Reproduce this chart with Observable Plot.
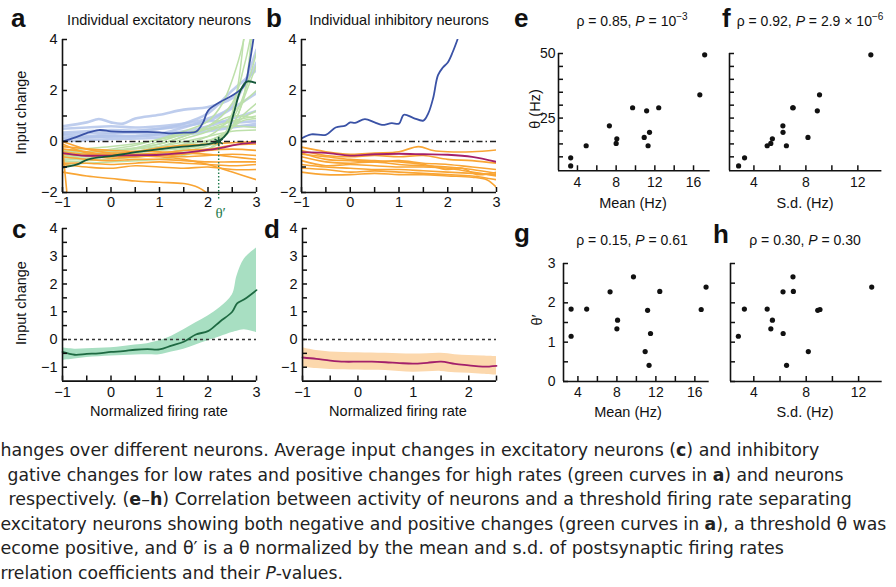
<!DOCTYPE html>
<html><head><meta charset="utf-8">
<script src="https://cdn.jsdelivr.net/npm/d3@7"></script>
<script src="https://cdn.jsdelivr.net/npm/@observablehq/plot@0.6"></script>
<style>
html,body{margin:0;padding:0;background:#fff;}
#root{position:relative;width:896px;height:587px;overflow:hidden;background:#fff;}
</style></head><body><div id="root"></div>
<script>
// ---------- Panel a: individual excitatory neurons ----------
const aLightBlue = [
  [[-1,0.6],[-0.5,0.75],[-0.25,0.88],[0,0.75],[0.25,0.7],[0.5,0.9],[1,1.05],[1.5,1.25],[2,1.35],[2.5,1.7],[2.75,2.2],[3,3.1]],
  [[-1,0.5],[-0.5,0.55],[0,0.6],[0.5,0.55],[1,0.6],[1.5,0.7],[2,0.9],[2.5,1.4],[3,3.6]],
  [[-1,0.35],[-0.5,0.4],[0,0.45],[0.5,0.42],[1,0.5],[1.5,0.6],[2,0.8],[2.5,1.3],[3,1.9]],
  [[-1,0.25],[-0.5,0.2],[0,0.3],[0.5,0.35],[1,0.3],[1.5,0.4],[2,0.6],[2.5,0.9],[3,1.2]],
  [[-1,0.1],[-0.5,0.15],[0,0.2],[0.5,0.2],[1,0.3],[1.5,0.55],[2,0.8],[2.5,0.75],[3,0.8]],
  [[-1,0.15],[0,0.2],[1,0.25],[1.5,0.3],[2,0.5],[2.5,0.6],[3,0.6]],
  [[-1,0.3],[0,0.35],[1,0.5],[1.5,0.7],[2,1.1],[2.5,2.0],[3,2.8]],
  [[-1,0.0],[0,0.1],[1,0.15],[2,0.4],[2.5,0.55],[3,0.7]]
];
const aLightGreen = [
  [[-1,-0.3],[-0.5,-0.4],[0,-0.3],[0.5,-0.15],[1,0.1],[1.5,0.4],[2,0.8],[2.3,1.5],[2.6,3.0],[2.8,4.5]],
  [[-1,-0.5],[-0.5,-0.5],[0,-0.4],[0.5,-0.25],[1,0],[1.5,0.3],[2,0.6],[2.5,1.5],[2.75,3.0],[2.9,4.3]],
  [[-1,-0.6],[0,-0.5],[0.5,-0.4],[1,-0.2],[1.5,0.1],[2,0.4],[2.5,0.9],[3,3.5]],
  [[-1,-0.7],[0,-0.6],[0.5,-0.45],[1,-0.3],[1.5,-0.1],[2,0.2],[2.3,0.6],[2.6,1.3],[3,2.0]],
  [[-1,-0.4],[0,-0.35],[1,-0.1],[1.5,0.2],[2,0.5],[2.5,0.8],[3,1.0]],
  [[-1,-0.8],[0,-0.7],[1,-0.5],[1.5,-0.3],[2,0],[2.4,0.4],[2.7,0.8],[3,0.9]],
  [[-1,-0.55],[0,-0.45],[1,-0.3],[1.6,-0.1],[2.1,0.1],[2.4,0.4],[2.7,1.0],[3,1.5]],
  [[-1,-0.35],[0,-0.2],[0.8,0],[1.5,0.3],[2,0.5],[2.5,0.6],[3,0.55]],
  [[-1,-0.9],[0,-0.8],[1,-0.7],[1.8,-0.4],[2.2,-0.1],[2.4,0.5],[2.6,2.0],[2.75,4.3]],
  [[-1,-0.6],[0,-0.5],[1,-0.35],[1.8,-0.2],[2.2,0.1],[2.5,0.6],[2.8,2.0],[3,3.0]],
  [[-1,-0.45],[0,-0.35],[1,-0.2],[2,0.2],[2.5,0.4],[3,0.45]],
  [[-1,-0.75],[0,-0.6],[1,-0.55],[2,-0.3],[2.3,0.2],[2.7,0.9],[3,1.2]],
  [[-1,-0.5],[0,-0.4],[1,-0.1],[1.5,0.2],[2,0.6],[2.5,1.0],[3,0.9]],
  [[-1,-0.65],[0,-0.55],[1,-0.45],[1.7,-0.3],[2.1,-0.1],[2.4,0.3],[2.7,1.5],[2.9,4.2]]
];
const aOrange = [
  [[-1,-0.05],[-0.97,-0.8],[-0.93,-1.6],[-0.9,-2.2]],
  [[-1,0],[-0.5,-0.3],[0,-0.45],[0.5,-0.4],[1,-0.25],[1.5,-0.15],[2,-0.1],[2.5,-0.05],[3,0]],
  [[-1,-0.1],[-0.5,-0.45],[0,-0.5],[0.5,-0.5],[1,-0.45],[1.5,-0.35],[2,-0.3],[2.5,-0.15],[3,-0.1]],
  [[-1,-0.3],[-0.5,-0.4],[0,-0.55],[0.5,-0.6],[1,-0.55],[1.5,-0.5],[2,-0.35],[2.5,-0.3],[3,-0.35]],
  [[-1,-0.5],[-0.5,-0.55],[0,-0.65],[0.5,-0.6],[1,-0.55],[1.5,-0.6],[2,-0.55],[2.5,-0.5],[3,-0.55]],
  [[-1,-0.6],[-0.5,-0.7],[0,-0.75],[0.5,-0.7],[1,-0.7],[1.5,-0.75],[2,-0.8],[2.5,-0.8],[3,-0.8]],
  [[-1,-0.85],[-0.5,-0.85],[0,-0.9],[0.5,-0.85],[1,-0.8],[1.5,-0.85],[2,-0.9],[2.5,-0.95],[3,-0.9]],
  [[-1,-0.9],[-0.5,-1.0],[0,-1.05],[0.5,-0.95],[1,-1.0],[1.5,-1.05],[2,-1.0],[2.5,-1.1],[3,-1.1]],
  [[-1,-1.2],[-0.5,-1.35],[0,-1.45],[0.5,-1.55],[1,-1.6],[1.5,-1.65],[1.8,-1.8],[2,-2.05]],
  [[-1,-0.4],[-0.5,-0.5],[0,-0.5],[0.5,-0.55],[1,-0.6],[1.5,-0.7],[2,-0.9],[2.5,-1.2],[3,-1.5]],
  [[-1,-0.2],[0,-0.35],[1,-0.4],[1.5,-0.45],[2,-0.5],[2.5,-0.6],[3,-0.7]]
];
const aMagenta = [[-1,-0.46],[-0.6,-0.55],[0,-0.55],[0.5,-0.54],[1,-0.52],[1.5,-0.45],[1.75,-0.39],[2.25,-0.26],[2.65,-0.1],[3,-0.04]];
const aDarkBlue = [[-1,0],[-0.75,0.15],[-0.5,0.33],[-0.25,0.45],[0,0.4],[0.25,0.38],[0.5,0.38],[0.75,0.38],[1,0.36],[1.25,0.32],[1.5,0.35],[1.75,0.38],[1.9,0.75],[2,1.2],[2.25,1.55],[2.5,1.8],[2.75,2.2],[2.85,3.0],[2.95,4.2]];
const aDarkGreen = [[-1,-1.02],[-0.7,-0.9],[-0.5,-0.72],[-0.25,-0.62],[0,-0.57],[0.25,-0.5],[0.5,-0.42],[1,-0.3],[1.5,-0.2],[2,-0.1],[2.22,0.02],[2.4,0.33],[2.53,1.1],[2.67,2.0],[2.8,2.35],[3,2.29]];
const aTheta = [2.22];

// ---------- Panel b: individual inhibitory neurons ----------
const bDarkBlue = [[-1,0.12],[-0.8,0.28],[-0.5,0.26],[-0.3,0.55],[-0.1,0.62],[0,0.75],[0.1,0.73],[0.3,0.88],[0.5,0.75],[0.65,0.65],[0.85,0.72],[1,0.7],[1.1,1.05],[1.3,0.92],[1.5,0.82],[1.6,1.1],[1.7,1.7],[1.8,2.6],[1.9,2.9],[2.0,3.1],[2.1,3.5],[2.2,4.0]];
const bMagenta = [[-1,-0.42],[-0.5,-0.45],[0,-0.55],[0.5,-0.5],[1,-0.48],[1.5,-0.5],[2,-0.52],[2.5,-0.6],[3,-0.8]];
const bOrange = [
  [[-1,-0.22],[-0.5,-0.4],[0,-0.5],[0.5,-0.45],[1,-0.4],[1.4,-0.2],[1.7,-0.35],[2,-0.4],[2.5,-0.4],[3,-0.33]],
  [[-1,-0.35],[-0.5,-0.55],[0,-0.6],[0.5,-0.55],[1,-0.6],[1.5,-0.55],[2,-0.7],[2.5,-0.75],[3,-0.85]],
  [[-1,-0.45],[-0.5,-0.7],[0,-0.75],[0.5,-0.8],[1,-0.75],[1.5,-0.85],[2,-0.9],[2.5,-1.0],[3,-1.1]],
  [[-1,-0.6],[-0.5,-0.8],[0,-0.85],[0.5,-0.8],[1,-0.9],[1.5,-0.95],[2,-1.0],[2.5,-1.1],[3,-1.25]],
  [[-1,-0.75],[-0.5,-0.95],[0,-0.9],[0.5,-0.95],[1,-1.0],[1.5,-1.0],[2,-1.05],[2.5,-1.2],[3,-1.35]],
  [[-1,-0.9],[-0.5,-1.0],[0,-1.05],[0.5,-1.1],[1,-1.1],[1.5,-1.15],[2,-1.2],[2.5,-1.25],[3,-1.3]],
  [[-1,-1.05],[-0.5,-1.1],[0,-1.2],[0.5,-1.15],[1,-1.2],[1.5,-1.25],[2,-1.3],[2.5,-1.35],[3,-1.5]],
  [[-1,-1.2],[-0.5,-1.3],[0,-1.3],[0.5,-1.25],[1,-1.3],[1.5,-1.3],[2,-1.35],[2.5,-1.4],[2.8,-1.5],[3,-1.8]],
  [[-1,-0.5],[-0.5,-0.6],[0,-0.7],[0.5,-0.75],[1,-0.8],[1.5,-0.9],[2,-1.1],[2.3,-1.05],[2.6,-1.3],[3,-1.2]]
];

// ---------- Panels c, d: averages with bands ----------
const cX     = [-1,-0.75,-0.5,-0.25,0,0.25,0.5,0.75,1,1.25,1.5,1.75,2,2.25,2.5,2.6,2.75,3];
const cMean  = [-0.45,-0.55,-0.52,-0.5,-0.45,-0.42,-0.37,-0.35,-0.36,-0.22,-0.08,0.18,0.3,0.65,1.0,1.3,1.45,1.78];
const cUpper = [-0.3,-0.35,-0.33,-0.32,-0.3,-0.25,-0.2,-0.15,-0.05,0.12,0.35,0.6,0.85,1.15,1.6,2.3,2.9,3.3];
const cLower = [-0.75,-0.7,-0.65,-0.62,-0.6,-0.58,-0.56,-0.55,-0.55,-0.45,-0.35,-0.2,-0.05,0.1,0.25,0.3,0.35,0.25];
const dX     = [-1,-0.75,-0.5,-0.25,0,0.25,0.5,0.75,1,1.25,1.5,1.75,2,2.25,2.5];
const dMean  = [-0.65,-0.7,-0.76,-0.8,-0.8,-0.8,-0.82,-0.85,-0.87,-0.84,-0.8,-0.88,-0.93,-0.98,-0.95];
const dUpper = [-0.3,-0.4,-0.45,-0.47,-0.48,-0.49,-0.5,-0.51,-0.52,-0.51,-0.5,-0.55,-0.58,-0.6,-0.62];
const dLower = [-1.0,-1.05,-1.08,-1.09,-1.1,-1.11,-1.12,-1.15,-1.18,-1.16,-1.15,-1.2,-1.22,-1.25,-1.28];

// ---------- Panels e-h: per-neuron statistics ----------
const meanHz = [3.3, 3.3, 4.9, 7.3, 8.0, 8.07, 9.7, 10.9, 11.15, 11.45, 11.3, 12.4, 16.65, 17.15];
const sdHz   = [2.82, 3.28, 5.02, 6.23, 5.3, 5.42, 6.99, 8.16, 8.88, 6.24, 6.5, 7.02, 9.05, 13.0];
const thetaHz= [6.5, 9.6, 14.3, 22.0, 15.2, 17.0, 29.0, 17.5, 27.8, 19.5, 14.3, 29.0, 34.0, 49.5];
const thetaN = [1.15, 1.84, 1.84, 2.28, 1.34, 1.56, 2.66, 0.76, 1.81, 1.22, 0.41, 2.29, 1.83, 2.4];

// ---------- tick lists ----------
const ticksRateX = [-1,-0.5,0,0.5,1,1.5,2,2.5,3], labRateX = [-1,0,1,2,3];
const ticksAY = [-2,-1,0,1,2,3,4], labAY = [-2,0,2,4];
const ticksCY = [-1,-0.5,0,0.5,1,1.5,2,2.5,3,3.5,4], labCY = [-1,0,1,2,3,4];
const ticksDX = [-1,-0.5,0,0.5,1,1.5,2,2.5], labDX = [-1,0,1,2];
const ticksMeanX = [4,6,8,10,12,14,16], labMeanX = [4,8,12,16];
const ticksSdX = [4,6,8,10,12], labSdX = [4,8,12];
const ticksThetaY = [10,15,20,25,30,35,40,45,50], labThetaY = [25,50];
const ticksThetaNY = [0,0.5,1,1.5,2,2.5,3], labThetaNY = [0,1,2,3];

// colours
const C = {lb:"#b3c4ea", lg:"#bde0aa", or:"#f9a534", mg:"#a3206b", db:"#3a52a6", dg:"#15573a",
           band:"#a8dfc2", bandD:"#fcd8ad", dgMean:"#1e6a42", theta:"#1f7a4c"};

const root = document.getElementById("root");
const fmt = d => (d < 0 ? "\u2212" + Math.abs(d) : String(d));
const toRows = lines => lines.flatMap((pts, i) => pts.map(([x, y]) => ({x, y, id: i})));
const pts = p => p.map(([x, y]) => ({x, y}));

function panel({frame, xDom, yDom, marks, xt, xl, yt, yl, xPad, yPad, fs}) {
  const [fl, ft, fr, fb] = frame;
  const ml = 45, mt = 12, mr = 14, mb = 34;
  const svg = Plot.plot({
    width: (fr - fl) + ml + mr, height: (fb - ft) + mt + mb,
    marginLeft: ml, marginTop: mt, marginRight: mr, marginBottom: mb,
    x: {domain: xDom, label: null}, y: {domain: yDom, label: null},
    style: {background: "transparent", overflow: "visible", fontFamily: "Liberation Sans, Arial, sans-serif", color: "#111"},
    marks: [
      ...marks,
      Plot.ruleX([xDom[0]], {stroke: "#111", strokeWidth: 1.6}),
      Plot.ruleY([yDom[0]], {stroke: "#111", strokeWidth: 1.6}),
      Plot.axisX({ticks: xt, tickSize: -5, tickPadding: xPad, strokeWidth: 1.5, fontSize: fs, label: null,
                  tickFormat: d => xl.includes(d) ? fmt(d) : ""}),
      Plot.axisY({ticks: yt, tickSize: -5, tickPadding: yPad, strokeWidth: 1.5, fontSize: fs, label: null,
                  tickFormat: d => yl.includes(d) ? fmt(d) : ""})
    ]
  });
  svg.style.position = "absolute";
  svg.style.left = (fl - ml) + "px";
  svg.style.top = (ft - mt) + "px";
  root.appendChild(svg);
}

const cr = "catmull-rom";
// a
panel({frame: [62, 39, 256, 192], xDom: [-1, 3], yDom: [-2, 4], xt: ticksRateX, xl: labRateX, yt: ticksAY, yl: labAY, xPad: 9, yPad: 10, fs: 14.5,
  marks: [
    Plot.line(toRows(aLightBlue), {x: "x", y: "y", z: "id", stroke: C.lb, strokeWidth: 2.6, strokeOpacity: 0.85, curve: cr, clip: true}),
    Plot.line(toRows(aLightGreen), {x: "x", y: "y", z: "id", stroke: C.lg, strokeWidth: 1.5, curve: cr, clip: true}),
    Plot.line(toRows(aOrange), {x: "x", y: "y", z: "id", stroke: C.or, strokeWidth: 1.6, curve: cr, clip: true}),
    Plot.line(pts(aMagenta), {x: "x", y: "y", stroke: C.mg, strokeWidth: 1.8, curve: cr, clip: true}),
    Plot.line(pts(aDarkBlue), {x: "x", y: "y", stroke: C.db, strokeWidth: 1.8, curve: cr, clip: true}),
    Plot.line(pts(aDarkGreen), {x: "x", y: "y", stroke: C.dg, strokeWidth: 1.8, curve: cr, clip: true}),
    Plot.ruleY([0], {stroke: "#222", strokeWidth: 1.4, strokeDasharray: "6,3,1.5,3"}),
    Plot.ruleX(aTheta, {y1: 0, y2: -2.3, stroke: C.theta, strokeWidth: 1.4, strokeDasharray: "1.5,2"}),
    Plot.dot(aTheta, {x: d => d, y: 0, symbol: "asterisk", r: 4.5, stroke: C.dg, strokeWidth: 1.6}),
    Plot.text(aTheta, {x: d => d, y: -2, text: () => "\u03b8\u2032", dy: 21, dx: 2, fill: C.theta, fontSize: 15, fontFamily: "Liberation Serif, serif"})
  ]});
// b
panel({frame: [300.7, 39, 495.7, 192], xDom: [-1, 3], yDom: [-2, 4], xt: ticksRateX, xl: labRateX, yt: ticksAY, yl: labAY, xPad: 9, yPad: 10, fs: 14.5,
  marks: [
    Plot.line(toRows(bOrange), {x: "x", y: "y", z: "id", stroke: C.or, strokeWidth: 1.6, curve: cr, clip: true}),
    Plot.line(pts(bMagenta), {x: "x", y: "y", stroke: C.mg, strokeWidth: 1.8, curve: cr, clip: true}),
    Plot.line(pts(bDarkBlue), {x: "x", y: "y", stroke: C.db, strokeWidth: 1.8, curve: cr, clip: true}),
    Plot.ruleY([0], {stroke: "#222", strokeWidth: 1.4, strokeDasharray: "6,3,1.5,3"})
  ]});
// c
const cRows = cX.map((x, i) => ({x, m: cMean[i], lo: cLower[i], hi: cUpper[i]}));
panel({frame: [62, 228.3, 256, 380.9], xDom: [-1, 3], yDom: [-1.5, 4], xt: ticksRateX, xl: labRateX, yt: ticksCY, yl: labCY, xPad: 11, yPad: 10, fs: 14.5,
  marks: [
    Plot.areaY(cRows, {x: "x", y1: "lo", y2: "hi", fill: C.band, curve: cr}),
    Plot.ruleY([0], {stroke: "#333", strokeWidth: 1.4, strokeDasharray: "3,3"}),
    Plot.line(cRows, {x: "x", y: "m", stroke: C.dgMean, strokeWidth: 1.8, curve: cr})
  ]});
// d
const dRows = dX.map((x, i) => ({x, m: dMean[i], lo: dLower[i], hi: dUpper[i]}));
panel({frame: [301.7, 228.3, 495.7, 380.9], xDom: [-1, 2.5], yDom: [-1.5, 4], xt: ticksDX, xl: labDX, yt: ticksCY, yl: labCY, xPad: 11, yPad: 10, fs: 14.5,
  marks: [
    Plot.areaY(dRows, {x: "x", y1: "lo", y2: "hi", fill: C.bandD, curve: cr}),
    Plot.ruleY([0], {stroke: "#333", strokeWidth: 1.4, strokeDasharray: "3,3"}),
    Plot.line(dRows, {x: "x", y: "m", stroke: C.mg, strokeWidth: 1.8, curve: cr})
  ]});
// e-h
const idx = meanHz.map((_, i) => i);
panel({frame: [558.3, 52.7, 710, 170], xDom: [2.04, 17.72], yDom: [4.6, 50], xt: ticksMeanX, xl: labMeanX, yt: ticksThetaY, yl: labThetaY, xPad: 11, yPad: 8, fs: 14,
  marks: [Plot.dot(idx, {x: i => meanHz[i], y: i => thetaHz[i], r: 2.6, fill: "#111"})]});
panel({frame: [729.3, 52.7, 881.7, 170], xDom: [2.12, 13.85], yDom: [4.6, 50], xt: ticksSdX, xl: labSdX, yt: ticksThetaY, yl: [], xPad: 11, yPad: 8, fs: 14,
  marks: [Plot.dot(idx, {x: i => sdHz[i], y: i => thetaHz[i], r: 2.6, fill: "#111"})]});
panel({frame: [563.3, 262.7, 709, 380.7], xDom: [2.52, 17.47], yDom: [0, 3], xt: ticksMeanX, xl: labMeanX, yt: ticksThetaNY, yl: labThetaNY, xPad: 11, yPad: 13, fs: 14,
  marks: [Plot.dot(idx, {x: i => meanHz[i], y: i => thetaN[i], r: 2.6, fill: "#111"})]});
panel({frame: [730, 262.7, 881.7, 380.7], xDom: [2.22, 13.8], yDom: [0, 3], xt: ticksSdX, xl: labSdX, yt: ticksThetaNY, yl: [], xPad: 11, yPad: 13, fs: 14,
  marks: [Plot.dot(idx, {x: i => sdHz[i], y: i => thetaN[i], r: 2.6, fill: "#111"})]});

// ---------- overlay text ----------
const ov = d3.select(root).append("svg").attr("width", 896).attr("height", 587)
  .style("position", "absolute").style("left", "0px").style("top", "0px")
  .style("font-family", "Liberation Sans, Arial, sans-serif").attr("fill", "#111");

const letters = [["a", 11, 27], ["b", 266, 27], ["c", 12, 238], ["d", 264, 238], ["e", 514, 27], ["f", 722, 27], ["g", 514, 242], ["h", 713, 243]];
letters.forEach(([t, x, y]) => ov.append("text").attr("x", x).attr("y", y).attr("font-size", 26).attr("font-weight", "bold").text(t));

const plain = [["Individual excitatory neurons", 159, 25], ["Individual inhibitory neurons", 399, 25],
  ["Normalized firing rate", 159, 416], ["Normalized firing rate", 398, 416],
  ["Mean (Hz)", 633, 208], ["S.d. (Hz)", 805, 208], ["Mean (Hz)", 628, 417], ["S.d. (Hz)", 805, 417]];
plain.forEach(([t, x, y]) => ov.append("text").attr("x", x).attr("y", y).attr("text-anchor", "middle").attr("font-size", 14.5).text(t));

const rotated = [["Input change", 26, 112.5], ["Input change", 26, 303], ["\u03b8 (Hz)", 540, 109], ["\u03b8\u2032", 542, 320]];
rotated.forEach(([t, x, y]) => ov.append("text").attr("transform", `translate(${x},${y}) rotate(-90)`).attr("text-anchor", "middle").attr("font-size", 14.5).text(t));

function stat(x, y, rho, p, sup) {
  const t = ov.append("text").attr("x", x).attr("y", y).attr("text-anchor", "middle").attr("font-size", 14);
  t.append("tspan").text(`\u03c1 = ${rho}, `);
  t.append("tspan").attr("font-style", "italic").text("P");
  t.append("tspan").text(` = ${p}`);
  if (sup) t.append("tspan").attr("font-size", 10).attr("dy", -6).text(sup);
}
stat(632, 26, "0.85", "10", "\u22123");
stat(810, 26, "0.92", "2.9 \u00d7 10", "\u22126");
stat(632, 245, "0.15", "0.61");
stat(805, 245, "0.30", "0.30");

// ---------- caption (cropped figure legend) ----------
const capLines = [
  {y: 456,   x0: 0.5, x1: 820, parts: [["hanges over different neurons. Average input changes in excitatory neurons ("], ["c", "b"], [") and inhibitory"]]},
  {y: 480.5, x0: 7.5, x1: 844, parts: [["gative changes for low rates and positive changes for high rates (green curves in "], ["a", "b"], [") and neurons"]]},
  {y: 505,   x0: 8.5, x1: 852, parts: [["respectively. ("], ["e", "b"], ["\u2013"], ["h", "b"], [") Correlation between activity of neurons and a threshold firing rate separating"]]},
  {y: 529.5, x0: 0.5, x1: 887, parts: [["excitatory neurons showing both negative and positive changes (green curves in "], ["a", "b"], ["), a threshold \u03b8 was"]]},
  {y: 554,   x0: 0.5, x1: 784, parts: [["ecome positive, and \u03b8\u2032 is a \u03b8 normalized by the mean and s.d. of postsynaptic firing rates"]]},
  {y: 578.5, x0: 0.5, x1: 343, parts: [["rrelation coefficients and their "], ["P", "i"], ["-values."]]}
];
capLines.forEach(L => {
  const t = ov.append("text").attr("font-size", 17).attr("fill", "#222")
    .style("font-family", "Liberation Sans Narrow, DejaVu Sans Condensed, Liberation Sans, sans-serif");
  L.parts.forEach(([s, st]) => {
    const sp = t.append("tspan").text(s);
    if (st === "b") sp.attr("font-weight", "bold");
    if (st === "i") sp.attr("font-style", "italic");
  });
  const w = t.node().getComputedTextLength();
  const sx = (L.x1 - L.x0) / w;
  t.attr("transform", `translate(${L.x0},${L.y}) scale(${sx},1)`);
});
</script></body></html>
